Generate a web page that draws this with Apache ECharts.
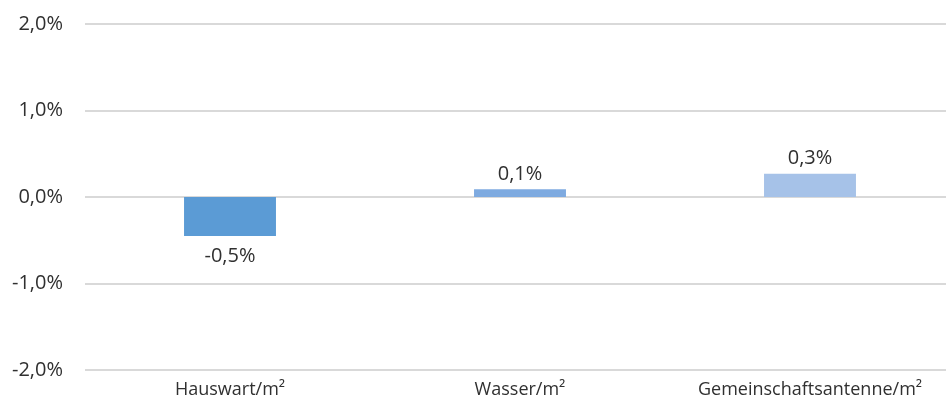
<!DOCTYPE html>
<html>
<head>
<meta charset="utf-8">
<script src="https://cdn.jsdelivr.net/npm/echarts@6/dist/echarts.min.js"></script>
<style>
  html, body { margin: 0; padding: 0; background: #fff; }
  #chart { width: 946px; height: 407px; }
</style>
</head>
<body>
<div id="chart"></div>
<script>
// Change in cost items per square metre (percent)
const categories = ['Hauswart/m²', 'Wasser/m²', 'Gemeinschaftsantenne/m²'];
const changes = [-0.45, 0.09, 0.27];
const barColors = ['#5b9bd5', '#7eaae0', '#a6c2e8'];
const yTicks = [-2, -1, 0, 1, 2];

const fmtPct = v => v.toFixed(1).replace('.', ',') + '%';
const FONT = '"Open Sans", "Noto Sans", sans-serif';
const TEXT = '#303030';

const chart = echarts.init(document.getElementById('chart'), null, { renderer: 'canvas' });
chart.setOption({
  animation: false,
  grid: { left: 85, top: 24, width: 870, height: 346, containLabel: false, outerBoundsMode: 'none' },
  xAxis: {
    type: 'category',
    data: categories,
    axisLine: { show: false },
    axisTick: { show: false },
    axisLabel: {
      interval: 0,
      hideOverlap: false,
      color: TEXT,
      fontFamily: FONT,
      fontSize: 18,
      margin: 11
    }
  },
  yAxis: {
    type: 'value',
    min: yTicks[0],
    max: yTicks[yTicks.length - 1],
    interval: 1,
    axisLine: { show: false },
    axisTick: { show: false },
    splitLine: { lineStyle: { color: '#d9d9d9', width: 2 } },
    axisLabel: { color: TEXT, fontFamily: FONT, fontSize: 20, margin: 22, formatter: fmtPct }
  },
  series: [{
    type: 'bar',
    barWidth: '31.7%',
    data: changes.map((v, i) => ({
      value: v,
      itemStyle: { color: barColors[i] },
      label: { distance: v < 0 ? 10 : 5 }
    })),
    label: {
      show: true,
      position: 'outside',
      color: TEXT,
      fontFamily: FONT,
      fontSize: 20,
      formatter: p => fmtPct(p.value)
    }
  }]
});
</script>
</body>
</html>
